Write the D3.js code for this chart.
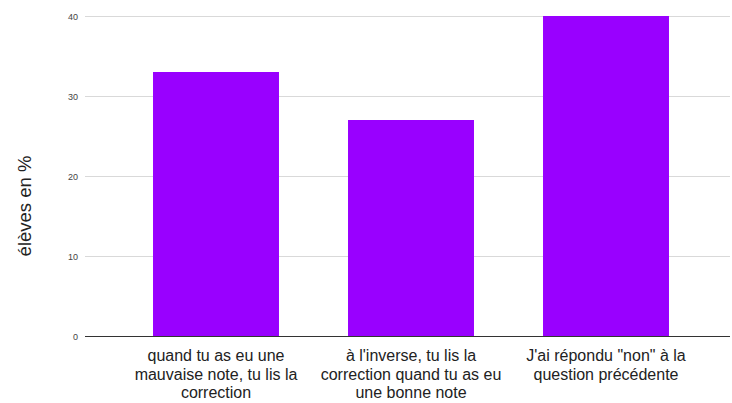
<!DOCTYPE html>
<html>
<head>
<meta charset="utf-8">
<script src="https://cdn.jsdelivr.net/npm/d3@7"></script>
<style>
  body { margin: 0; background: #fff; }
  svg { font-family: Arial, "Liberation Sans", sans-serif; }
</style>
</head>
<body>
<div id="chart"></div>
<script>
const categories = ["q1", "q2", "q3"];
const categoryLines = [
  ["quand tu as eu une", "mauvaise note, tu lis la", "correction"],
  ["à l'inverse, tu lis la", "correction quand tu as eu", "une bonne note"],
  ["J'ai répondu \"non\" à la", "question précédente"]
];
const values = [33, 27, 40];
const yTicks = [0, 10, 20, 30, 40];
const yTitle = "élèves en %";

const width = 732, height = 403;
const margin = { left: 85, right: 730, top: 16, bottom: 336 };

const svg = d3.select("#chart").append("svg")
  .attr("width", width)
  .attr("height", height);

const x = d3.scaleBand()
  .domain(categories)
  .range([118.5, 703.5])
  .paddingInner(0.354)
  .paddingOuter(0.177);

const y = d3.scaleLinear().domain([0, 40]).range([margin.bottom, margin.top]);

// gridlines
svg.append("g")
  .selectAll("line")
  .data(yTicks.filter(d => d !== 0))
  .enter()
  .append("line")
  .attr("x1", margin.left)
  .attr("x2", margin.right)
  .attr("y1", d => y(d) + 0.5)
  .attr("y2", d => y(d) + 0.5)
  .attr("stroke", "#d9d9d9")
  .attr("stroke-width", 1);

// y tick labels
svg.append("g")
  .selectAll("text")
  .data(yTicks)
  .enter()
  .append("text")
  .attr("x", 78)
  .attr("y", d => y(d) + 3.5)
  .attr("text-anchor", "end")
  .style("font-size", "9px")
  .attr("fill", "#444")
  .text(d => d);

// bars
svg.append("g")
  .selectAll("rect")
  .data(values)
  .enter()
  .append("rect")
  .attr("x", (d, i) => x(categories[i]))
  .attr("y", d => y(d))
  .attr("width", x.bandwidth())
  .attr("height", d => y(0) - y(d))
  .attr("fill", "#9900ff");

// baseline
svg.append("line")
  .attr("x1", margin.left)
  .attr("x2", margin.right)
  .attr("y1", y(0) + 0.5)
  .attr("y2", y(0) + 0.5)
  .attr("stroke", "#333")
  .attr("stroke-width", 1);

// x labels
const labels = svg.append("g")
  .selectAll("text")
  .data(categoryLines)
  .enter()
  .append("text")
  .attr("text-anchor", "middle")
  .style("font-size", "16px")
  .attr("fill", "#222");

labels.each(function (lines, i) {
  const cx = x(categories[i]) + x.bandwidth() / 2;
  d3.select(this).selectAll("tspan")
    .data(lines)
    .enter()
    .append("tspan")
    .attr("x", cx)
    .attr("y", (d, j) => 361 + j * 18.5)
    .text(d => d);
});

// y title
svg.append("text")
  .attr("transform", "translate(31,206) rotate(-90)")
  .attr("text-anchor", "middle")
  .style("font-size", "18.5px")
  .attr("fill", "#222")
  .text(yTitle);
</script>
</body>
</html>
